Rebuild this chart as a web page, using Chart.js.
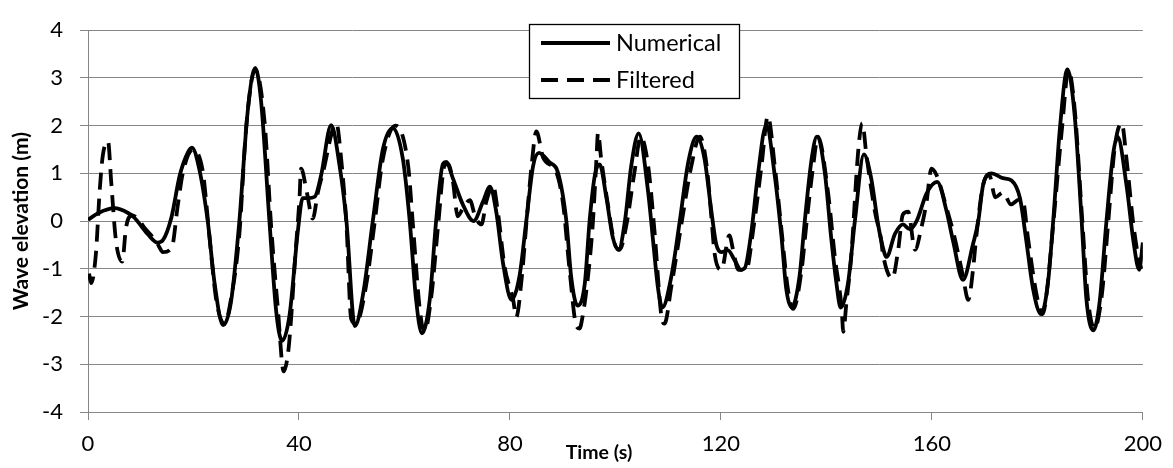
<!DOCTYPE html>
<html>
<head>
<meta charset="utf-8">
<script src="https://cdn.jsdelivr.net/npm/chart.js@4.4.1/dist/chart.umd.min.js"></script>
<style>
html,body{margin:0;padding:0;background:#fff;}
#wrap{width:1173px;height:468px;position:relative;}
</style>
</head>
<body>
<div id="wrap"><canvas id="c"></canvas></div>
<script>
const seriesNames = ['Numerical', 'Filtered'];
const xTitle = 'Time (s)';
const yTitle = 'Wave elevation (m)';
const xTicks = [0, 40, 80, 120, 160, 200];
const yTicks = [-4, -3, -2, -1, 0, 1, 2, 3, 4];

const numT = [0,2,5,7.6,8.8,11.3,13.2,14.2,15.8,17.4,18.9,19.7,21.1,22.7,24,25.6,27.1,28.7,30.3,31.7,32.8,34.4,35.7,36.8,38.2,39.8,40.7,41.7,43,44.2,46.1,47.7,49,50.6,52.2,54,55.9,57.8,59.7,61,62.2,63.3,64.8,66,67.3,67.9,69.2,71.1,73.1,74.9,76.2,77.4,78.7,80.3,81.8,83.1,84.4,85.5,87.5,89.1,90.7,91.6,92.8,94.2,95.1,96.1,97,98.3,99.5,100.6,101.8,103,104.4,106.2,107.2,108.1,108.9,110.6,112.2,113.8,115.4,116.9,118.2,119.1,120.1,121.3,122.6,123.8,124.5,125.8,127,128.6,130.2,131.5,132.4,133.4,134.9,135.9,137.2,138.2,139.7,140.9,141.9,142.7,144.1,145.4,147.1,148.5,149.8,150.7,151.4,153,154.5,155.8,157.1,159,161,162.8,164,165.9,167.8,168.8,169.7,171.3,173.5,175.1,176.7,177.9,179.2,180.7,182,183,184.3,185.7,187.1,188.4,189.3,190.6,191.8,193.1,194.4,195.2,196.9,198.2,199.3,200];
const numV = [0.03,0.17,0.27,0.17,0.07,-0.27,-0.45,-0.4,0.07,0.96,1.43,1.54,1.09,0,-1.3,-2.18,-1.7,0,2.32,3.21,2.53,0,-1.91,-2.51,-1.98,-0.2,0.48,0.48,0.51,0.96,2.01,1.16,0,-2.2,-1.5,0,1.5,1.95,1.3,0,-1.64,-2.35,-1.64,0,1.2,1.24,0.89,0.34,0,0.41,0.72,0.2,-0.89,-1.65,-1.16,0,1.16,1.43,1.23,1.02,0,-1.16,-1.77,-1.3,0,0.96,1.19,0.48,-0.34,-0.6,0,1.16,1.84,0.61,-0.48,-1.43,-1.81,-1.16,0,1.23,1.77,1.3,0.2,-0.48,-0.65,-0.61,-0.82,-1.02,-0.99,-0.2,0.96,2.01,0.96,-0.34,-1.43,-1.81,-1.16,0,1.3,1.77,1.02,-0.34,-1.3,-1.81,-1.3,0,1.4,0.89,-0.07,-0.55,-0.75,-0.27,-0.07,-0.17,0,0.58,0.82,0.2,-0.41,-1.23,-0.48,0,0.75,1,0.9,0.85,0.48,-0.41,-1.43,-1.95,-1.3,0,1.98,3.18,2.18,0,-1.64,-2.29,-1.7,0,1.43,1.77,0.75,-0.41,-1.02,-0.45];

const filT = [0.2,0.6,1.5,2.2,2.8,3.8,4.4,5.3,6.5,7.2,8.4,9.8,10.7,12,13.2,14.2,15.9,17,18,19.9,21.8,22.4,23.4,24.3,25.9,27.1,28.7,30,31.7,33.5,34.7,36,37.1,38,38.6,39.2,40.1,40.4,41.5,42.6,43.6,44.5,47.1,48,49,49.9,50.8,52.7,54.3,55.9,58.3,60.7,61.6,62.9,63.8,65.1,66.4,67.6,68.3,69.2,70.1,71,72.4,73.4,74.6,75.5,76.8,77.7,79,80.6,81.2,82.2,83.1,84.1,85,86.3,88.8,90.1,91.3,92.6,93.2,93.8,94.8,95.7,96.4,96.7,97.3,98.5,99.8,100.8,102.1,103.6,104.8,106.2,107.4,108.7,109.3,110.6,112.5,114.4,116,117.3,118.2,118.8,120.1,121.6,122.3,123.3,124.8,126.1,127.7,128.9,130.2,131.5,132.7,133.7,135.3,136.2,137.5,138.4,140.3,141.6,142.9,143.2,143.8,144.7,146,146.8,147.6,149.2,150.4,150.7,152.5,153.6,154.5,155.5,156.8,158,159,159.9,160.9,162.8,164.3,165.9,166.9,167.8,168.4,169.7,170.9,172,173.5,175,176.5,177.3,178.2,179.9,181,181.7,183,184.7,185.9,187.1,188.4,189.6,190.8,192.2,193.4,194.7,196,196.9,198.2,199.4,199.8];
const filV = [-1.1,-1.3,-0.68,0.61,1.37,1.67,0.82,-0.41,-0.85,-0.14,0.12,0,-0.14,-0.3,-0.48,-0.65,-0.55,0.31,1.02,1.5,1.02,0.41,-0.75,-1.64,-2.15,-1.64,-0.27,1.98,3.17,2.05,-0.07,-1.84,-3.15,-2.7,-1.9,-0.89,0.48,1.1,0.6,0.05,0.61,1,2.05,1.3,-0.07,-2.05,-2.15,-1.37,-0.07,1.3,2,1.16,-0.07,-1.84,-2.32,-1.57,-0.07,1.16,1.2,0.82,0.1,0.25,0.44,0.1,-0.07,0.4,0.75,0.2,-0.96,-1.64,-2.01,-1.23,-0.07,1.16,1.88,1.33,1.02,0.34,-1.02,-2.2,-2.25,-1.98,-1.16,-0.07,1.3,1.85,1.3,0.4,-0.45,-0.6,-0.07,1.02,1.77,1.16,-0.2,-1.98,-2.15,-1.37,-0.07,1.16,1.77,1.16,0.07,-0.68,-1.02,-0.3,-0.6,-1.02,-1.02,-0.2,1.16,2.2,1.16,-0.2,-1.43,-1.84,-1.02,-0.07,1.16,1.77,0.61,-0.75,-1.84,-2.32,-1.7,-0.75,1.43,2.05,1.37,0.2,-0.41,-0.68,-1.2,-0.61,0.14,0.2,-0.6,-0.14,0.41,1.1,0.96,0.27,-0.34,-1.16,-1.65,-1.02,-0.34,0.75,0.96,0.5,0.6,0.35,0.45,0.41,-0.34,-1.57,-1.95,-1.57,-0.07,1.98,3.17,2.32,0.2,-1.64,-2.25,-1.57,-0.07,1.57,2.05,1.3,-0.07,-0.89,-1];

const FONT = 'Lato';
const GRID = '#868686';

const toPts = (t, v) => t.map((x, i) => ({x: x, y: v[i]}));

const overlay = {
  id: 'overlay',
  afterDraw(chart) {
    const ctx = chart.ctx;
    const ds = chart.data.datasets;
    ctx.save();
    const bx = 529, by = 24, bw = 210, bh = 74;
    ctx.fillStyle = '#fff';
    ctx.fillRect(bx, by, bw, bh);
    ctx.strokeStyle = '#000';
    ctx.lineWidth = 1.3;
    ctx.strokeRect(bx + 0.5, by + 0.5, bw, bh);
    const rows = [43, 80];
    ds.forEach((d, i) => {
      ctx.beginPath();
      ctx.setLineDash(d.borderDash || []);
      ctx.lineWidth = d.borderWidth;
      ctx.strokeStyle = d.borderColor;
      ctx.moveTo(541, rows[i]);
      ctx.lineTo(610, rows[i]);
      ctx.stroke();
      ctx.setLineDash([]);
      ctx.fillStyle = '#000';
      ctx.font = '23.5px ' + FONT;
      ctx.textBaseline = 'middle';
      ctx.textAlign = 'left';
      ctx.fillText(d.label, 616, rows[i]);
    });
    ctx.font = 'bold 19.5px ' + FONT;
    ctx.textAlign = 'center';
    ctx.textBaseline = 'middle';
    ctx.fillStyle = '#000';
    ctx.fillText(xTitle, 599, 453);
    ctx.restore();
  }
};

new Chart(document.getElementById('c'), {
  type: 'line',
  data: {
    datasets: [
      {label: seriesNames[0], data: toPts(numT, numV), borderColor: '#000', borderWidth: 3.8,
       pointRadius: 0, cubicInterpolationMode: 'monotone', fill: false},
      {label: seriesNames[1], data: toPts(filT, filV), borderColor: '#000', borderWidth: 3.8,
       borderDash: [17, 9], pointRadius: 0, cubicInterpolationMode: 'monotone', fill: false}
    ]
  },
  options: {
    responsive: true,
    maintainAspectRatio: false,
    animation: false,
    layout: {padding: {top: 22, right: 30, left: 0, bottom: 0}},
    plugins: {legend: {display: false}, tooltip: {enabled: false}},
    scales: {
      x: {
        type: 'linear', min: 0, max: 200,
        afterBuildTicks: s => { s.ticks = xTicks.map(v => ({value: v})); },
        afterFit: s => { s.height = 56; },
        grid: {drawOnChartArea: false, drawTicks: true, tickLength: 8, color: GRID, lineWidth: 1},
        border: {display: true, color: GRID, width: 1},
        ticks: {color: '#000', font: {family: FONT, size: 22}, padding: 11, maxRotation: 0},
        title: {display: false, text: xTitle}
      },
      y: {
        type: 'linear', min: -4, max: 4,
        afterBuildTicks: s => { s.ticks = yTicks.map(v => ({value: v})); },
        afterFit: s => { s.width = 88; },
        grid: {color: GRID, lineWidth: 1, drawTicks: true, tickLength: 8},
        border: {display: true, color: GRID, width: 1},
        ticks: {color: '#000', font: {family: FONT, size: 22}, padding: 17},
        title: {display: true, text: yTitle, color: '#000', font: {family: FONT, size: 21, weight: 'bold'}, padding: {top: 9, bottom: 0}}
      }
    }
  },
  plugins: [overlay]
});
</script>
</body>
</html>
